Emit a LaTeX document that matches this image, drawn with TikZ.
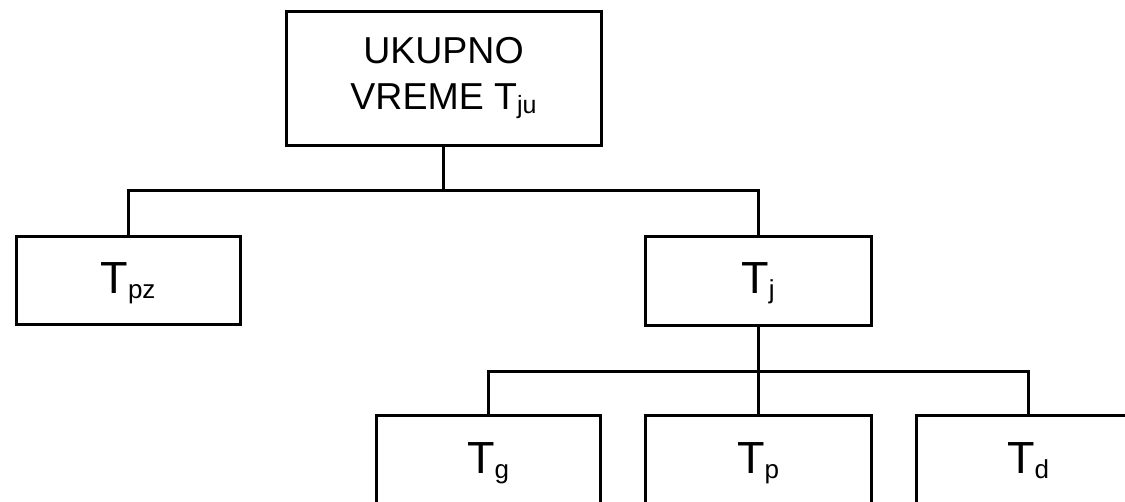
\documentclass[tikz,border=0pt]{standalone}
\usepackage{fontspec}
\setmainfont{Liberation Sans}
\newcommand{\subt}[2]{\raisebox{-#2}{\fontsize{26}{26}\selectfont #1}}
\begin{document}
\begin{tikzpicture}[x=1pt,y=-1pt,
  box/.style={draw,line width=3pt,rectangle,inner sep=0pt,align=center},
  lbl/.style={font=\fontsize{45}{54}\selectfont,text height=34pt,text depth=8pt},
  conn/.style={line width=3pt}]
\useasboundingbox (0,0) rectangle (1125,501);
\node[box,minimum width=315pt,minimum height=134pt,font=\fontsize{37.5}{46}\selectfont] (top) at (443.5,78) {UKUPNO\\VREME T\raisebox{-4pt}{\fontsize{25}{25}\selectfont ju}};
\node[box,lbl,minimum width=224pt,minimum height=88pt] (tpz) at (128,280) {T\subt{pz}{5pt}};
\node[box,lbl,minimum width=226pt,minimum height=89pt] (tj) at (758,280.5) {T\subt{j}{5pt}};
\node[box,lbl,minimum width=224pt,minimum height=90pt] (tg) at (488,460) {T\subt{g}{5pt}};
\node[box,lbl,minimum width=226pt,minimum height=90pt] (tp) at (758,460) {T\subt{p}{5pt}};
\node[box,lbl,minimum width=224pt,minimum height=90pt] (td) at (1028,460) {T\subt{d}{5pt}};
\coordinate (j1) at (443.5,190);
\coordinate (j2) at (758,371);
\draw[conn] (top.south) -- (j1);
\draw[conn] (tpz.north) |- (j1) -| (tj.north);
\draw[conn] (tj.south) -- (tp.north);
\draw[conn] (tg.north) |- (j2) -| (td.north);
\end{tikzpicture}
\end{document}
